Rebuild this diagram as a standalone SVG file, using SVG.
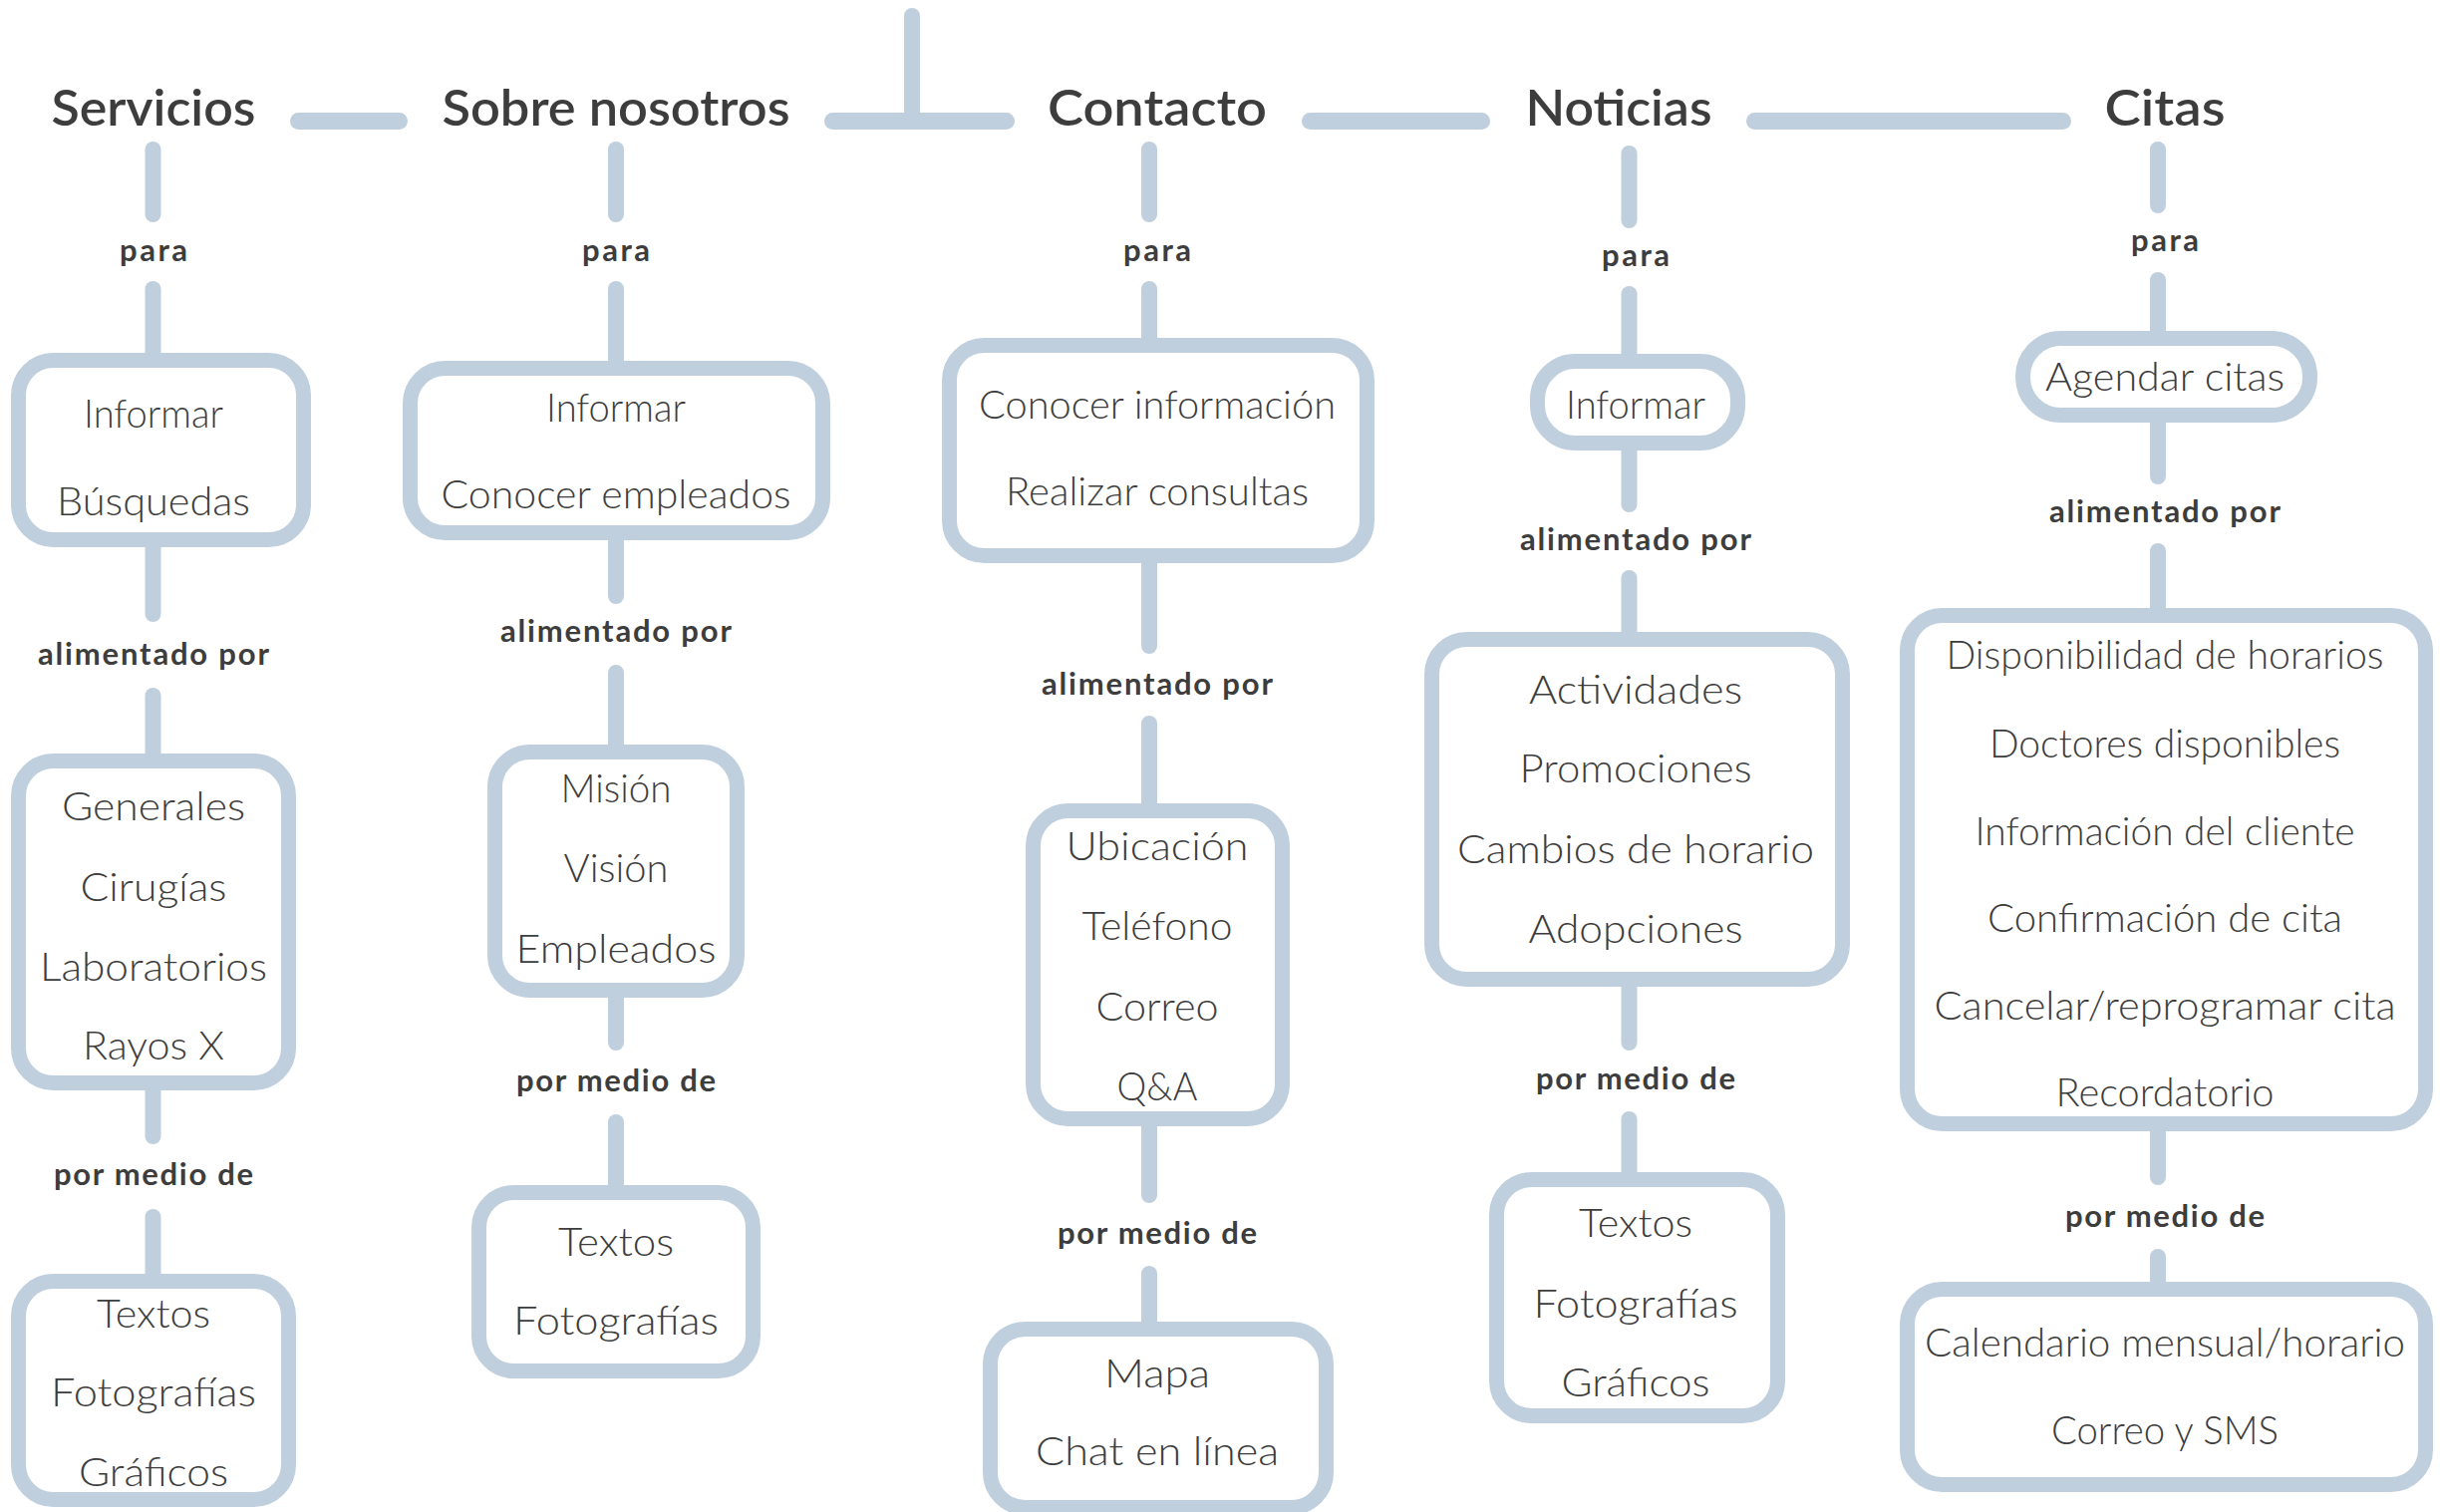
<svg xmlns="http://www.w3.org/2000/svg" width="2448" height="1517" viewBox="0 0 2448 1517">
<style>
.bg{fill:#ffffff}
.box{fill:#ffffff;stroke:#c0cfdd;stroke-width:15}
.ln{stroke:#c0cfdd;stroke-width:16;stroke-linecap:round;fill:none}
.bar{fill:#c0cfdd}
text{fill:#3d3d3d;text-anchor:middle;font-family:Lato,"Noto Sans","Liberation Sans",sans-serif}
.h{font-size:50px;font-weight:600}
.l{font-size:31px;font-weight:700}
.t{font-size:40px;font-weight:300}
</style>
<rect class="bg" x="0" y="0" width="2448" height="1517"/>
<g id="connectors">
<line class="ln" x1="915" y1="16" x2="915" y2="120"/>
<rect class="bar" x="291" y="113" width="118" height="17" rx="8.5"/>
<rect class="bar" x="827" y="113" width="191" height="17" rx="8.5"/>
<rect class="bar" x="1306" y="113" width="189" height="17" rx="8.5"/>
<rect class="bar" x="1752" y="113" width="326" height="17" rx="8.5"/>
<line class="ln" x1="153.5" y1="150" x2="153.5" y2="215"/>
<line class="ln" x1="153.5" y1="290" x2="153.5" y2="360"/>
<line class="ln" x1="153.5" y1="545" x2="153.5" y2="616"/>
<line class="ln" x1="153.5" y1="698" x2="153.5" y2="762"/>
<line class="ln" x1="153.5" y1="1090" x2="153.5" y2="1140"/>
<line class="ln" x1="153.5" y1="1221" x2="153.5" y2="1284"/>
<line class="ln" x1="618" y1="150" x2="618" y2="215"/>
<line class="ln" x1="618" y1="290" x2="618" y2="368"/>
<line class="ln" x1="618" y1="538" x2="618" y2="598"/>
<line class="ln" x1="618" y1="675" x2="618" y2="753"/>
<line class="ln" x1="618" y1="997" x2="618" y2="1046"/>
<line class="ln" x1="618" y1="1126" x2="618" y2="1195"/>
<line class="ln" x1="1153" y1="150" x2="1153" y2="215"/>
<line class="ln" x1="1153" y1="290" x2="1153" y2="345"/>
<line class="ln" x1="1153" y1="560" x2="1153" y2="648"/>
<line class="ln" x1="1153" y1="726" x2="1153" y2="812"/>
<line class="ln" x1="1153" y1="1126" x2="1153" y2="1199"/>
<line class="ln" x1="1153" y1="1278" x2="1153" y2="1334"/>
<line class="ln" x1="1634.5" y1="154" x2="1634.5" y2="221"/>
<line class="ln" x1="1634.5" y1="295" x2="1634.5" y2="361"/>
<line class="ln" x1="1634.5" y1="448" x2="1634.5" y2="506"/>
<line class="ln" x1="1634.5" y1="580" x2="1634.5" y2="640"/>
<line class="ln" x1="1634.5" y1="986" x2="1634.5" y2="1046"/>
<line class="ln" x1="1634.5" y1="1123" x2="1634.5" y2="1182"/>
<line class="ln" x1="2165" y1="150" x2="2165" y2="206"/>
<line class="ln" x1="2165" y1="281" x2="2165" y2="338"/>
<line class="ln" x1="2165" y1="420" x2="2165" y2="478"/>
<line class="ln" x1="2165" y1="553" x2="2165" y2="616"/>
<line class="ln" x1="2165" y1="1130" x2="2165" y2="1181"/>
<line class="ln" x1="2165" y1="1261" x2="2165" y2="1292"/>
</g>
<g id="labels">
<text class="l" x="154" y="262" textLength="68">para</text>
<text class="l" x="154" y="667" textLength="232">alimentado por</text>
<text class="l" x="154" y="1189" textLength="200">por medio de</text>
<text class="l" x="618" y="262" textLength="68">para</text>
<text class="l" x="618" y="644" textLength="232">alimentado por</text>
<text class="l" x="618" y="1095" textLength="200">por medio de</text>
<text class="l" x="1161" y="262" textLength="68">para</text>
<text class="l" x="1161" y="697" textLength="232">alimentado por</text>
<text class="l" x="1161" y="1248" textLength="200">por medio de</text>
<text class="l" x="1641" y="267" textLength="68">para</text>
<text class="l" x="1641" y="552" textLength="232">alimentado por</text>
<text class="l" x="1641" y="1093" textLength="200">por medio de</text>
<text class="l" x="2172" y="252" textLength="68">para</text>
<text class="l" x="2172" y="524" textLength="232">alimentado por</text>
<text class="l" x="2172" y="1231" textLength="200">por medio de</text>
</g>
<g id="servicios">
<text class="h" x="154" y="126" textLength="205" lengthAdjust="spacingAndGlyphs">Servicios</text>
</g>
<g id="sobre-nosotros">
<text class="h" x="618" y="126" textLength="349" lengthAdjust="spacingAndGlyphs">Sobre nosotros</text>
</g>
<g id="contacto">
<text class="h" x="1161" y="126" textLength="220" lengthAdjust="spacingAndGlyphs">Contacto</text>
</g>
<g id="noticias">
<text class="h" x="1624" y="126" textLength="187" lengthAdjust="spacingAndGlyphs">Noticias</text>
</g>
<g id="citas">
<text class="h" x="2172" y="126" textLength="121" lengthAdjust="spacingAndGlyphs">Citas</text>
</g>
<g id="servicios-para">
<rect class="box" x="18.5" y="361.5" width="286" height="180" rx="35"/>
<text class="t" x="154" y="429" textLength="140" lengthAdjust="spacingAndGlyphs">Informar</text>
<text class="t" x="154" y="517" textLength="194" lengthAdjust="spacingAndGlyphs">Búsquedas</text>
</g>
<g id="servicios-alimentado">
<rect class="box" x="18.5" y="763.5" width="271" height="323" rx="35"/>
<text class="t" x="154" y="823" textLength="184" lengthAdjust="spacingAndGlyphs">Generales</text>
<text class="t" x="154" y="904" textLength="147" lengthAdjust="spacingAndGlyphs">Cirugías</text>
<text class="t" x="154" y="984" textLength="228" lengthAdjust="spacingAndGlyphs">Laboratorios</text>
<text class="t" x="154" y="1063" textLength="142" lengthAdjust="spacingAndGlyphs">Rayos X</text>
</g>
<g id="servicios-medio">
<rect class="box" x="18.5" y="1285.5" width="271" height="219" rx="35"/>
<text class="t" x="154" y="1332" textLength="114" lengthAdjust="spacingAndGlyphs">Textos</text>
<text class="t" x="154" y="1411" textLength="206" lengthAdjust="spacingAndGlyphs">Fotografías</text>
<text class="t" x="154" y="1491" textLength="150" lengthAdjust="spacingAndGlyphs">Gráficos</text>
</g>
<g id="sobre-para">
<rect class="box" x="411.5" y="369.5" width="414" height="165" rx="35"/>
<text class="t" x="618" y="423" textLength="140" lengthAdjust="spacingAndGlyphs">Informar</text>
<text class="t" x="618" y="510" textLength="351" lengthAdjust="spacingAndGlyphs">Conocer empleados</text>
</g>
<g id="sobre-alimentado">
<rect class="box" x="496.5" y="754.5" width="243" height="239" rx="35"/>
<text class="t" x="618" y="805" textLength="111" lengthAdjust="spacingAndGlyphs">Misión</text>
<text class="t" x="618" y="885" textLength="105" lengthAdjust="spacingAndGlyphs">Visión</text>
<text class="t" x="618" y="966" textLength="201" lengthAdjust="spacingAndGlyphs">Empleados</text>
</g>
<g id="sobre-medio">
<rect class="box" x="480.5" y="1196.5" width="275" height="179" rx="35"/>
<text class="t" x="618" y="1260" textLength="116" lengthAdjust="spacingAndGlyphs">Textos</text>
<text class="t" x="618" y="1339" textLength="206" lengthAdjust="spacingAndGlyphs">Fotografías</text>
</g>
<g id="contacto-para">
<rect class="box" x="952.5" y="346.5" width="419" height="211" rx="35"/>
<text class="t" x="1161" y="420" textLength="358" lengthAdjust="spacingAndGlyphs">Conocer información</text>
<text class="t" x="1161" y="507" textLength="304" lengthAdjust="spacingAndGlyphs">Realizar consultas</text>
</g>
<g id="contacto-alimentado">
<rect class="box" x="1036.5" y="813.5" width="250" height="309" rx="35"/>
<text class="t" x="1161" y="863" textLength="183" lengthAdjust="spacingAndGlyphs">Ubicación</text>
<text class="t" x="1161" y="943" textLength="151" lengthAdjust="spacingAndGlyphs">Teléfono</text>
<text class="t" x="1161" y="1024" textLength="123" lengthAdjust="spacingAndGlyphs">Correo</text>
<text class="t" x="1161" y="1104" textLength="81" lengthAdjust="spacingAndGlyphs">Q&amp;A</text>
</g>
<g id="contacto-medio">
<rect class="box" x="993.5" y="1333.5" width="337" height="179" rx="35"/>
<text class="t" x="1161" y="1392" textLength="106" lengthAdjust="spacingAndGlyphs">Mapa</text>
<text class="t" x="1161" y="1470" textLength="244" lengthAdjust="spacingAndGlyphs">Chat en línea</text>
</g>
<g id="noticias-para">
<rect class="box" x="1542.5" y="362.5" width="201" height="82" rx="38"/>
<text class="t" x="1641" y="420" textLength="140" lengthAdjust="spacingAndGlyphs">Informar</text>
</g>
<g id="noticias-alimentado">
<rect class="box" x="1436.5" y="641.5" width="412" height="341" rx="35"/>
<text class="t" x="1641" y="706" textLength="214" lengthAdjust="spacingAndGlyphs">Actividades</text>
<text class="t" x="1641" y="785" textLength="233" lengthAdjust="spacingAndGlyphs">Promociones</text>
<text class="t" x="1641" y="866" textLength="358" lengthAdjust="spacingAndGlyphs">Cambios de horario</text>
<text class="t" x="1641" y="946" textLength="215" lengthAdjust="spacingAndGlyphs">Adopciones</text>
</g>
<g id="noticias-medio">
<rect class="box" x="1501.5" y="1183.5" width="282" height="237" rx="35"/>
<text class="t" x="1641" y="1241" textLength="114" lengthAdjust="spacingAndGlyphs">Textos</text>
<text class="t" x="1641" y="1322" textLength="205" lengthAdjust="spacingAndGlyphs">Fotografías</text>
<text class="t" x="1641" y="1401" textLength="149" lengthAdjust="spacingAndGlyphs">Gráficos</text>
</g>
<g id="citas-para">
<rect class="box" x="2029.5" y="339.5" width="288" height="77" rx="38"/>
<text class="t" x="2172" y="392" textLength="240" lengthAdjust="spacingAndGlyphs">Agendar citas</text>
</g>
<g id="citas-alimentado">
<rect class="box" x="1913.5" y="617.5" width="520" height="510" rx="35"/>
<text class="t" x="2172" y="671" textLength="439" lengthAdjust="spacingAndGlyphs">Disponibilidad de horarios</text>
<text class="t" x="2172" y="760" textLength="352" lengthAdjust="spacingAndGlyphs">Doctores disponibles</text>
<text class="t" x="2172" y="848" textLength="381" lengthAdjust="spacingAndGlyphs">Información del cliente</text>
<text class="t" x="2172" y="935" textLength="356" lengthAdjust="spacingAndGlyphs">Confirmación de cita</text>
<text class="t" x="2172" y="1023" textLength="463" lengthAdjust="spacingAndGlyphs">Cancelar/reprogramar cita</text>
<text class="t" x="2172" y="1110" textLength="219" lengthAdjust="spacingAndGlyphs">Recordatorio</text>
</g>
<g id="citas-medio">
<rect class="box" x="1913.5" y="1293.5" width="520" height="196" rx="35"/>
<text class="t" x="2172" y="1361" textLength="482" lengthAdjust="spacingAndGlyphs">Calendario mensual/horario</text>
<text class="t" x="2172" y="1449" textLength="228" lengthAdjust="spacingAndGlyphs">Correo y SMS</text>
</g>
</svg>
